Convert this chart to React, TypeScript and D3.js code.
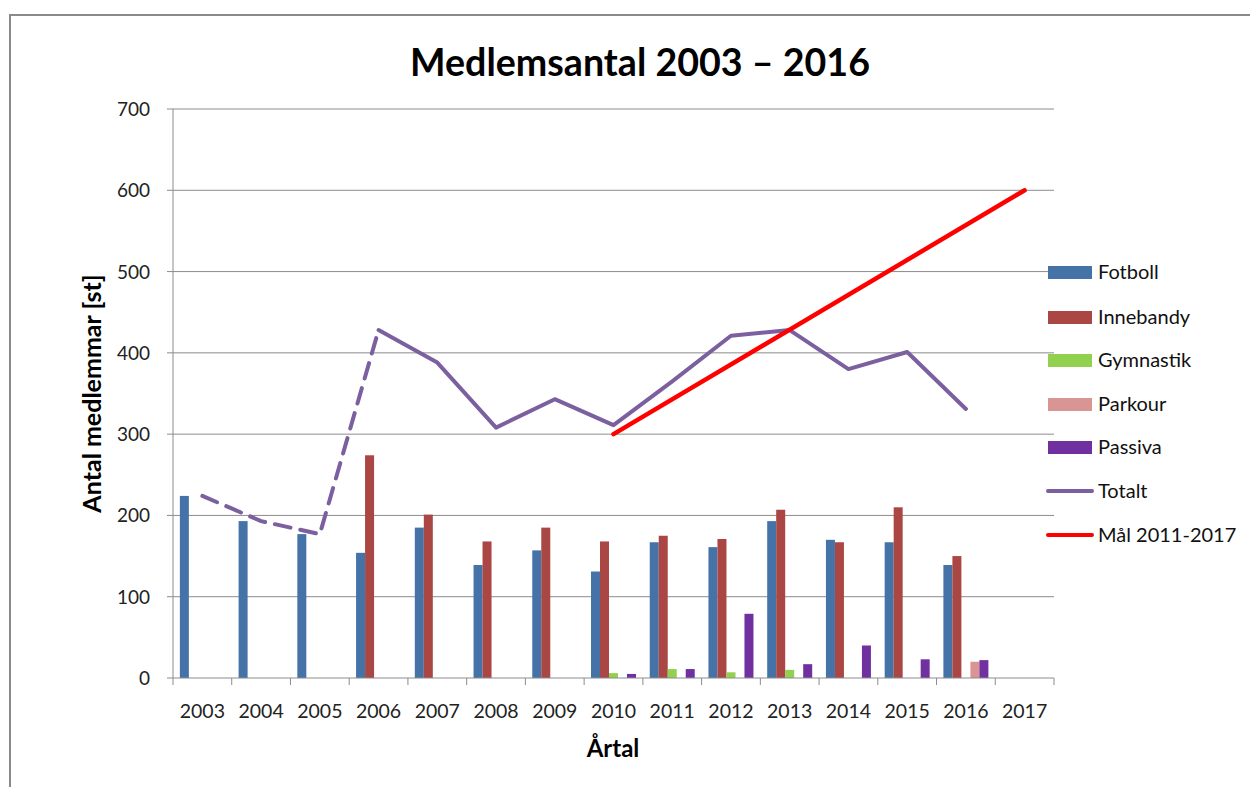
import React from 'react';
import * as d3 from 'd3';

// år på x-axeln
const years = ['2003', '2004', '2005', '2006', '2007', '2008', '2009', '2010', '2011', '2012', '2013', '2014', '2015', '2016', '2017'];

// staplar per sektion (null = ingen stapel)
const fotboll = [224, 193, 177, 154, 185, 139, 157, 131, 167, 161, 193, 170, 167, 139, null];
const innebandy = [null, null, null, 274, 201, 168, 185, 168, 175, 171, 207, 167, 210, 150, null];
const gymnastik = [null, null, null, null, null, null, null, 6, 11, 7, 10, null, null, null, null];
const parkour = [null, null, null, null, null, null, null, null, null, null, null, null, null, 20, null];
const passiva = [null, null, null, null, null, null, null, 5, 11, 79, 17, 40, 23, 22, null];

// totalt (streckad 2003-2006, heldragen 2006-2016)
const totalt = [224, 193, 177, 428, 388, 308, 343, 311, 365, 421, 428, 380, 401, 331, null];
const dashedUntil = '2006';

// mål-linjen
const malYears = ['2010', '2017'];
const malValues = [300, 600];

const yTicks = [0, 100, 200, 300, 400, 500, 600, 700];

const barSeries = [
  { name: 'Fotboll', color: '#4572A7', values: fotboll },
  { name: 'Innebandy', color: '#AA4643', values: innebandy },
  { name: 'Gymnastik', color: '#92D050', values: gymnastik },
  { name: 'Parkour', color: '#D99594', values: parkour },
  { name: 'Passiva', color: '#7030A0', values: passiva },
];

const font = "Lato, 'Open Sans', sans-serif";
const gridColor = '#8c8c8c';
const totalColor = '#7B5F9F';

export default function App() {
  const W = 1250;
  const H = 787;
  const plot = { left: 173, right: 1054, top: 109, bottom: 678 };

  const x = d3.scaleBand<string>().domain(years).range([plot.left, plot.right]).padding(0);
  const bw = x.bandwidth();
  const groupW = 45;
  const x1 = d3
    .scaleBand<string>()
    .domain(barSeries.map(s => s.name))
    .range([(bw - groupW) / 2, (bw + groupW) / 2])
    .padding(0);
  const y = d3.scaleLinear().domain([0, 700]).range([plot.bottom, plot.top]);
  const cx = (yr: string) => (x(yr) ?? 0) + bw / 2;

  const totPts = years
    .map((yr, i) => ({ yr, v: totalt[i] }))
    .filter(d => d.v != null) as { yr: string; v: number }[];
  const cut = totPts.findIndex(d => d.yr === dashedUntil);
  const line = d3
    .line<{ yr: string; v: number }>()
    .x(d => cx(d.yr))
    .y(d => y(d.v));
  const malPts = malYears.map((yr, i) => ({ yr, v: malValues[i] }));

  const boundaries = years.map(yr => x(yr) ?? 0).concat([plot.right]);

  const legendItems = [
    ...barSeries.map(s => ({ name: s.name, color: s.color, kind: 'bar' })),
    { name: 'Totalt', color: totalColor, kind: 'line' },
    { name: 'Mål 2011-2017', color: '#FF0000', kind: 'line' },
  ];
  const legendY = [272, 317, 360, 404, 447, 491, 535];

  return (
    <svg
      width={W}
      height={H}
      style={{ position: 'absolute', left: 0, top: 0, display: 'block', background: '#fff' }}
      fontFamily={font}
    >
      {/* ram */}
      <path d={`M10,${H} L10,15 L${W},15`} fill="none" stroke="#8a8a8a" strokeWidth={2} />

      <text
        x={640}
        y={76}
        textAnchor="middle"
        fontSize={39}
        fontWeight="bold"
        textLength={460}
        lengthAdjust="spacingAndGlyphs"
      >
        Medlemsantal 2003 – 2016
      </text>

      {/* rutnät */}
      {yTicks.map(t => (
        <g key={t}>
          {t > 0 && (
            <line x1={plot.left} x2={plot.right} y1={y(t)} y2={y(t)} stroke={gridColor} strokeWidth={1} />
          )}
          <line x1={plot.left - 6} x2={plot.left} y1={y(t)} y2={y(t)} stroke={gridColor} />
          <text x={150} y={y(t) + 7} textAnchor="end" fontSize={19} fill="#222">
            {t}
          </text>
        </g>
      ))}

      {/* staplar */}
      {barSeries.map(s =>
        s.values.map((v, i) =>
          v == null ? null : (
            <rect
              key={s.name + i}
              x={(x(years[i]) ?? 0) + (x1(s.name) ?? 0)}
              y={y(v)}
              width={x1.bandwidth()}
              height={y(0) - y(v)}
              fill={s.color}
            />
          )
        )
      )}

      {/* axlar */}
      <line x1={plot.left} x2={plot.left} y1={plot.top} y2={plot.bottom} stroke={gridColor} />
      <line x1={plot.left} x2={plot.right} y1={plot.bottom} y2={plot.bottom} stroke={gridColor} />
      {boundaries.map((bx, i) => (
        <line key={i} x1={bx} x2={bx} y1={plot.bottom} y2={plot.bottom + 7} stroke={gridColor} />
      ))}
      {years.map(yr => (
        <text key={yr} x={cx(yr)} y={718} textAnchor="middle" fontSize={19.5} fill="#222">
          {yr}
        </text>
      ))}

      {/* totalt */}
      <path
        d={line(totPts.slice(0, cut + 1)) ?? ''}
        fill="none"
        stroke={totalColor}
        strokeWidth={4}
        strokeDasharray="16 10"
        strokeLinecap="round"
      />
      <path
        d={line(totPts.slice(cut)) ?? ''}
        fill="none"
        stroke={totalColor}
        strokeWidth={4}
        strokeLinejoin="round"
        strokeLinecap="round"
      />

      {/* mål */}
      <path d={line(malPts) ?? ''} fill="none" stroke="#FF0000" strokeWidth={4.5} strokeLinecap="round" />

      {/* axeltitlar */}
      <text x={613} y={757} textAnchor="middle" fontSize={24} fontWeight="bold">
        Årtal
      </text>
      <text
        transform={`translate(101, ${(plot.top + plot.bottom) / 2}) rotate(-90)`}
        textAnchor="middle"
        fontSize={25}
        fontWeight="bold"
      >
        Antal medlemmar [st]
      </text>

      {/* legend */}
      {legendItems.map((it, i) => (
        <g key={it.name} transform={`translate(1048, ${legendY[i]})`}>
          {it.kind === 'bar' ? (
            <rect x={0} y={-6} width={44} height={13} fill={it.color} />
          ) : (
            <line x1={0} x2={44} y1={0} y2={0} stroke={it.color} strokeWidth={4} strokeLinecap="round" />
          )}
          <text x={50} y={7} fontSize={20} fill="#111">
            {it.name}
          </text>
        </g>
      ))}
    </svg>
  );
}
